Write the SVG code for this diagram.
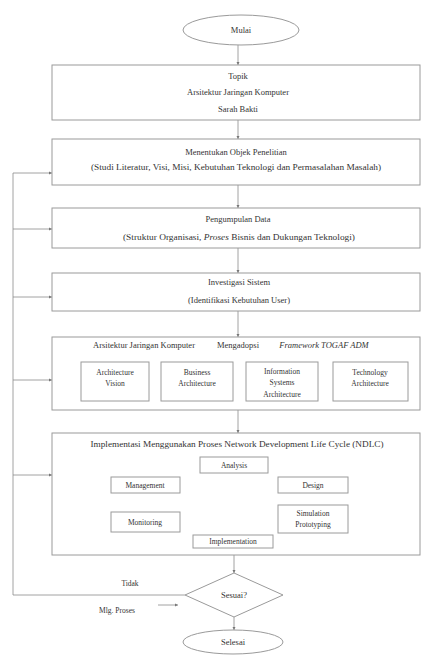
<svg xmlns="http://www.w3.org/2000/svg" width="422" height="656" viewBox="0 0 422 656">
<defs>
<marker id="ah" viewBox="0 0 6 6" refX="6" refY="3" markerWidth="4" markerHeight="4" orient="auto"><path d="M0,0 L6,3 L0,6 z" fill="#777"/></marker>
<style>
.b{fill:#fff;stroke:#9a9a9a;stroke-width:1}
.c{fill:none;stroke:#8a8a8a;stroke-width:0.8}
.t{font-family:"Liberation Serif","Times New Roman",serif;font-size:8.5px;fill:#333;text-anchor:middle}
.s{font-family:"Liberation Serif","Times New Roman",serif;font-size:7.5px;fill:#333;text-anchor:middle}
.i{font-style:italic}
</style>
</defs>
<rect width="422" height="656" fill="#fff"/>
<g id="connectors">
<line class="c" x1="238" y1="45" x2="238" y2="65" marker-end="url(#ah)"/>
<line class="c" x1="238" y1="120" x2="238" y2="139" marker-end="url(#ah)"/>
<line class="c" x1="238" y1="185" x2="238" y2="208" marker-end="url(#ah)"/>
<line class="c" x1="238" y1="248" x2="238" y2="273" marker-end="url(#ah)"/>
<line class="c" x1="238" y1="311" x2="238" y2="337" marker-end="url(#ah)"/>
<line class="c" x1="238" y1="410" x2="238" y2="433" marker-end="url(#ah)"/>
<line class="c" x1="234" y1="555" x2="234" y2="573" marker-end="url(#ah)"/>
<line class="c" x1="234" y1="617" x2="234" y2="630" marker-end="url(#ah)"/>
<polyline class="c" points="185,595 13,595 13,173"/>
<line class="c" x1="13" y1="173" x2="52" y2="173" marker-end="url(#ah)"/>
<line class="c" x1="13" y1="229" x2="52" y2="229" marker-end="url(#ah)"/>
<line class="c" x1="13" y1="297" x2="52" y2="297" marker-end="url(#ah)"/>
<line class="c" x1="13" y1="380" x2="52" y2="380" marker-end="url(#ah)"/>
<line class="c" x1="13" y1="475" x2="52" y2="475" marker-end="url(#ah)"/>
<line class="c" x1="158" y1="605" x2="178" y2="605" marker-end="url(#ah)"/>
<line class="c" x1="149" y1="381" x2="161" y2="381" marker-end="url(#ah)"/>
<line class="c" x1="233" y1="381" x2="246" y2="381" marker-end="url(#ah)"/>
<line class="c" x1="318" y1="381" x2="333" y2="381" marker-end="url(#ah)"/>
<path class="c" d="M145,477 L145,468 Q145,463 150,463 L200,463" marker-end="url(#ah)"/>
<path class="c" d="M268,463 L308,463 Q313,463 313,468 L313,477" marker-end="url(#ah)"/>
<line class="c" x1="313" y1="493" x2="313" y2="505" marker-end="url(#ah)"/>
<path class="c" d="M313,533 L313,537 Q313,542 308,542 L273,542" marker-end="url(#ah)"/>
<path class="c" d="M193,542 L150,542 Q145,542 145,537 L145,532" marker-end="url(#ah)"/>
<line class="c" x1="145" y1="512" x2="145" y2="493" marker-end="url(#ah)"/>
</g>
<g id="mulai"><ellipse class="b" cx="241" cy="30" rx="58" ry="15"/><text class="t" x="241" y="33">Mulai</text></g>
<g id="topik"><rect class="b" x="52" y="65" width="368" height="55"/>
<text class="t" x="238" y="79">Topik</text>
<text class="t" x="238" y="95">Arsitektur Jaringan Komputer</text>
<text class="t" x="238" y="112">Sarah Bakti</text></g>
<g id="objek"><rect class="b" x="52" y="139" width="368" height="46"/>
<text class="t" x="236" y="155">Menentukan Objek Penelitian</text>
<text class="t" x="236" y="170" textLength="290" lengthAdjust="spacingAndGlyphs">(Studi Literatur, Visi, Misi, Kebutuhan Teknologi dan Permasalahan Masalah)</text></g>
<g id="data"><rect class="b" x="52" y="208" width="368" height="40"/>
<text class="t" x="238" y="222">Pengumpulan Data</text>
<text class="t" x="239" y="240" textLength="232" lengthAdjust="spacingAndGlyphs">(Struktur Organisasi, <tspan class="i">Proses</tspan> Bisnis dan Dukungan Teknologi)</text></g>
<g id="investigasi"><rect class="b" x="52" y="273" width="368" height="38"/>
<text class="t" x="239" y="285">Investigasi Sistem</text>
<text class="t" x="239" y="303">(Identifikasi Kebutuhan User)</text></g>
<g id="togaf"><rect class="b" x="52" y="337" width="368" height="73"/>
<text class="t" x="144" y="348">Arsitektur Jaringan Komputer</text>
<text class="t" x="238" y="348">Mengadopsi</text>
<text class="t i" x="324" y="348">Framework TOGAF ADM</text>
<g id="vision"><rect class="b" x="81" y="362" width="68" height="39"/><text class="s" x="115" y="375">Architecture</text><text class="s" x="115" y="386">Vision</text></g>
<g id="business"><rect class="b" x="161" y="362" width="72" height="39"/><text class="s" x="197" y="375">Business</text><text class="s" x="197" y="386">Architecture</text></g>
<g id="infosys"><rect class="b" x="246" y="362" width="72" height="39"/><text class="s" x="282" y="374">Information</text><text class="s" x="282" y="385">Systems</text><text class="s" x="282" y="397">Architecture</text></g>
<g id="technology"><rect class="b" x="333" y="362" width="75" height="39"/><text class="s" x="370" y="375">Technology</text><text class="s" x="370" y="386">Architecture</text></g>
</g>
<g id="ndlc"><rect class="b" x="52" y="433" width="368" height="122"/>
<text class="t" x="237" y="447" textLength="293" lengthAdjust="spacingAndGlyphs">Implementasi Menggunakan Proses Network Development Life Cycle (NDLC)</text>
<g id="analysis"><rect class="b" x="200" y="457" width="68" height="16"/><text class="s" x="234" y="468">Analysis</text></g>
<g id="design"><rect class="b" x="278" y="477" width="70" height="16"/><text class="s" x="313" y="488">Design</text></g>
<g id="simulation"><rect class="b" x="278" y="505" width="70" height="28"/><text class="s" x="313" y="516">Simulation</text><text class="s" x="313" y="527">Prototyping</text></g>
<g id="implementation"><rect class="b" x="193" y="535" width="80" height="13"/><text class="s" x="233" y="544">Implementation</text></g>
<g id="monitoring"><rect class="b" x="111" y="512" width="69" height="20"/><text class="s" x="145" y="525">Monitoring</text></g>
<g id="management"><rect class="b" x="111" y="477" width="69" height="16"/><text class="s" x="145" y="488">Management</text></g>
</g>
<g id="sesuai"><polygon class="b" points="234,573 283,595 234,617 185,595"/><text class="t" x="234" y="598">Sesuai?</text></g>
<text class="s" x="130" y="586">Tidak</text>
<text class="s" x="117" y="613">Mlg. Proses</text>
<g id="selesai"><ellipse class="b" cx="233" cy="642" rx="50" ry="12"/><text class="t" x="233" y="645">Selesai</text></g>
</svg>
